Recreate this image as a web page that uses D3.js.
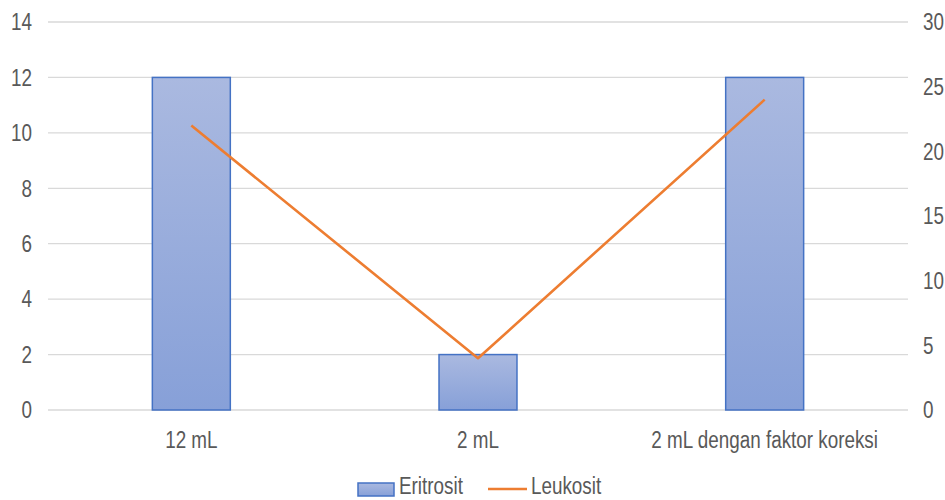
<!DOCTYPE html>
<html><head><meta charset="utf-8">
<script src="https://cdn.jsdelivr.net/npm/d3@7"></script>
<style>body{margin:0;background:#fff}svg{display:block}</style>
</head><body><svg id="c" width="945" height="500"></svg>
<script>
const categories = ["12 mL", "2 mL", "2 mL dengan faktor koreksi"];
const eritrosit = [12, 2, 12];
const leukosit = [22, 4, 24];
const leftTicks = [0, 2, 4, 6, 8, 10, 12, 14];
const rightTicks = [0, 5, 10, 15, 20, 25, 30];
const seriesNames = ["Eritrosit", "Leukosit"];

const svg = d3.select("#c");
const font = "'Liberation Sans',Arial,sans-serif";
const grey = "#595959";
const fs = 23, sx = 0.82;
const x0 = 48, x1 = 908, yTop = 22, yBot = 410;

const x = d3.scaleBand().domain(categories).range([x0, x1]).paddingInner(0.728).paddingOuter(0.364);
const yL = d3.scaleLinear().domain([0, 14]).range([yBot, yTop]);
const yR = d3.scaleLinear().domain([0, 30]).range([yBot, yTop]);

const defs = svg.append("defs");
const g = defs.append("linearGradient").attr("id", "bg").attr("x1", 0).attr("y1", 0).attr("x2", 0).attr("y2", 1);
g.append("stop").attr("offset", "0%").attr("stop-color", "#aab9e0");
g.append("stop").attr("offset", "100%").attr("stop-color", "#87a0d8");

function label(sel, xf, yf, anchor) {
  return sel.attr("transform", (d, i) => `translate(${xf(d, i)},${yf(d, i)}) scale(${sx},1)`)
    .attr("dy", "0.36em").attr("text-anchor", anchor)
    .attr("font-family", font).attr("font-size", fs).attr("fill", grey);
}

// gridlines
svg.append("g").selectAll("line").data(leftTicks).join("line")
  .attr("x1", x0).attr("x2", x1).attr("y1", d => yL(d)).attr("y2", d => yL(d))
  .attr("stroke", "#d9d9d9").attr("stroke-width", 1.3);

// left axis labels
label(svg.append("g").selectAll("text").data(leftTicks).join("text"), () => 32, d => yL(d), "end").text(d => d);

// right axis labels
label(svg.append("g").selectAll("text").data(rightTicks).join("text"), () => 923, d => yR(d), "start").text(d => d);

// bars
svg.append("g").selectAll("rect").data(eritrosit).join("rect")
  .attr("x", (d, i) => x(categories[i])).attr("width", x.bandwidth())
  .attr("y", d => yL(d)).attr("height", d => yL(0) - yL(d))
  .attr("fill", "url(#bg)").attr("stroke", "#4472c4").attr("stroke-width", 1.5);

// line
const line = d3.line().x((d, i) => x(categories[i]) + x.bandwidth() / 2).y(d => yR(d));
svg.append("path").datum(leukosit).attr("d", line).attr("fill", "none")
  .attr("stroke", "#ed7d31").attr("stroke-width", 2.6).attr("stroke-linejoin", "round");

// category labels
label(svg.append("g").selectAll("text").data(categories).join("text"),
  d => x(d) + x.bandwidth() / 2, () => 440, "middle").text(d => d);

// legend
const lg = svg.append("g");
lg.append("rect").attr("x", 358).attr("y", 483).attr("width", 36).attr("height", 13)
  .attr("fill", "url(#bg)").attr("stroke", "#4472c4").attr("stroke-width", 1.5);
label(lg.append("text").datum(seriesNames[0]), () => 399, () => 486, "start").text(d => d);
lg.append("line").attr("x1", 488).attr("x2", 527).attr("y1", 489).attr("y2", 489)
  .attr("stroke", "#ed7d31").attr("stroke-width", 2.6);
label(lg.append("text").datum(seriesNames[1]), () => 531, () => 486, "start").text(d => d);
</script></body></html>
